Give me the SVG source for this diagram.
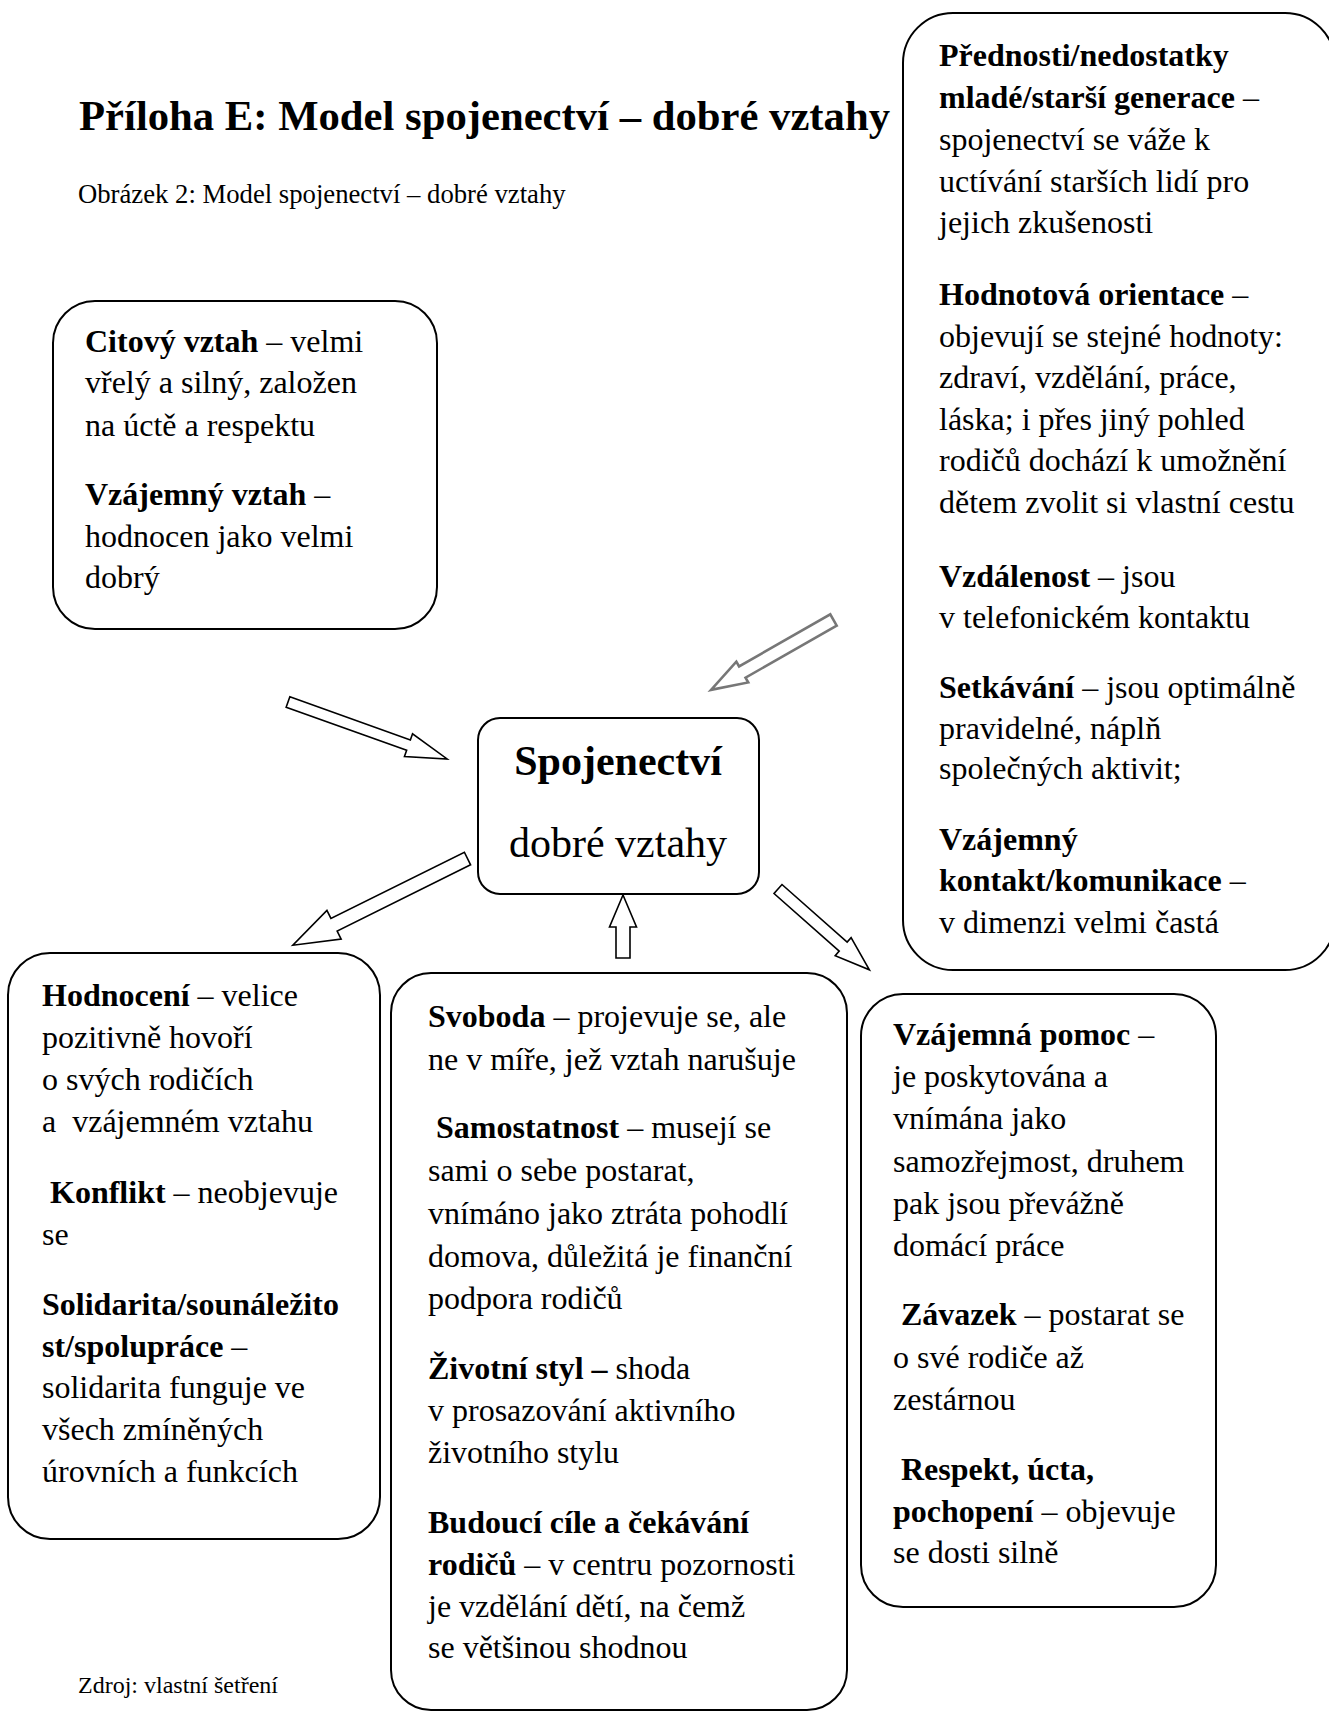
<svg xmlns="http://www.w3.org/2000/svg" width="1329" height="1711" viewBox="0 0 1329 1711">
<style>
text { font-family: "Liberation Serif", "Times New Roman", serif; fill: #000; }
.t { font-size: 32px; }
.b { font-weight: bold; }
.box { fill: #fff; stroke: #000; stroke-width: 2; }
.arr { fill: #fff; stroke: #000; stroke-width: 1.6; stroke-linejoin: miter; }
.arr2 { fill: #fff; stroke: #777; stroke-width: 2.6; stroke-linejoin: miter; }
</style>
<rect width="1329" height="1711" fill="#fff"/>

<g id="title">
<text x="79" y="130" class="b" font-size="42.7">Příloha E: Model spojenectví – dobré vztahy</text>
<text x="78" y="203" font-size="26.7">Obrázek 2: Model spojenectví – dobré vztahy</text>
</g>

<g id="connectors">
<polygon class="arr" transform="translate(288,702) rotate(19.7)" points="0,-5.5 128,-5.5 128,-12 169,0 128,12 128,5.5 0,5.5"/>
<polygon class="arr2" transform="translate(833.5,620) rotate(150.3)" points="0,-6.5 105,-6.5 105,-12 141,0 105,12 105,6.5 0,6.5"/>
<polygon class="arr" transform="translate(467.5,858.5) rotate(153.6)" points="0,-7 149,-7 149,-16 195,0 149,16 149,7 0,7"/>
<polygon class="arr" transform="translate(623,958) rotate(-90)" points="0,-7 31,-7 31,-13.5 63,0 31,13.5 31,7 0,7"/>
<polygon class="arr" transform="translate(778,889) rotate(41.5)" points="0,-6 87,-6 87,-12 122,0 87,12 87,6 0,6"/>
</g>

<g id="node-citovy">
<rect class="box" x="53" y="301" width="384" height="328" rx="42"/>
<text class="t" x="85" y="352"><tspan class="b">Citový vztah</tspan> – velmi</text>
<text class="t" x="85" y="393">vřelý a silný, založen</text>
<text class="t" x="85" y="436">na úctě a respektu</text>
<text class="t" x="85" y="505"><tspan class="b">Vzájemný vztah</tspan> –</text>
<text class="t" x="85" y="547">hodnocen jako velmi</text>
<text class="t" x="85" y="588">dobrý</text>
</g>

<g id="node-prednosti">
<rect class="box" x="903" y="13" width="432" height="957" rx="50"/>
<text class="t" x="939" y="66"><tspan class="b">Přednosti/nedostatky</tspan></text>
<text class="t" x="939" y="108"><tspan class="b">mladé/starší generace</tspan> –</text>
<text class="t" x="939" y="150">spojenectví se váže k</text>
<text class="t" x="939" y="192">uctívání starších lidí pro</text>
<text class="t" x="939" y="233">jejich zkušenosti</text>
<text class="t" x="939" y="305"><tspan class="b">Hodnotová orientace</tspan> –</text>
<text class="t" x="939" y="347">objevují se stejné hodnoty:</text>
<text class="t" x="939" y="388">zdraví, vzdělání, práce,</text>
<text class="t" x="939" y="430">láska; i přes jiný pohled</text>
<text class="t" x="939" y="471">rodičů dochází k umožnění</text>
<text class="t" x="939" y="513">dětem zvolit si vlastní cestu</text>
<text class="t" x="939" y="587"><tspan class="b">Vzdálenost</tspan> – jsou</text>
<text class="t" x="939" y="628">v telefonickém kontaktu</text>
<text class="t" x="939" y="698"><tspan class="b">Setkávání</tspan> – jsou optimálně</text>
<text class="t" x="939" y="739">pravidelné, náplň</text>
<text class="t" x="939" y="779">společných aktivit;</text>
<text class="t" x="939" y="850"><tspan class="b">Vzájemný</tspan></text>
<text class="t" x="939" y="891"><tspan class="b">kontakt/komunikace</tspan> –</text>
<text class="t" x="939" y="933">v dimenzi velmi častá</text>
</g>

<g id="node-center">
<rect class="box" x="478" y="718" width="281" height="176" rx="22"/>
<text x="618" y="775" text-anchor="middle" class="b" font-size="42">Spojenectví</text>
<text x="618" y="857" text-anchor="middle" font-size="42">dobré vztahy</text>
</g>

<g id="node-hodnoceni">
<rect class="box" x="8" y="953" width="372" height="586" rx="42"/>
<text class="t" x="42" y="1006"><tspan class="b">Hodnocení</tspan> – velice</text>
<text class="t" x="42" y="1048">pozitivně hovoří</text>
<text class="t" x="42" y="1090">o svých rodičích</text>
<text class="t" x="42" y="1132" xml:space="preserve">a  vzájemném vztahu</text>
<text class="t" x="42" y="1203" xml:space="preserve"><tspan class="b"> Konflikt</tspan> – neobjevuje</text>
<text class="t" x="42" y="1245">se</text>
<text class="t" x="42" y="1315"><tspan class="b">Solidarita/sounáležito</tspan></text>
<text class="t" x="42" y="1357"><tspan class="b">st/spolupráce</tspan> –</text>
<text class="t" x="42" y="1398">solidarita funguje ve</text>
<text class="t" x="42" y="1440">všech zmíněných</text>
<text class="t" x="42" y="1482">úrovních a funkcích</text>
</g>

<g id="node-svoboda">
<rect class="box" x="391" y="973" width="456" height="737" rx="40"/>
<text class="t" x="428" y="1027"><tspan class="b">Svoboda</tspan> – projevuje se, ale</text>
<text class="t" x="428" y="1070">ne v míře, jež vztah narušuje</text>
<text class="t" x="428" y="1138" xml:space="preserve"><tspan class="b"> Samostatnost</tspan> – musejí se</text>
<text class="t" x="428" y="1181">sami o sebe postarat,</text>
<text class="t" x="428" y="1224">vnímáno jako ztráta pohodlí</text>
<text class="t" x="428" y="1267">domova, důležitá je finanční</text>
<text class="t" x="428" y="1309">podpora rodičů</text>
<text class="t" x="428" y="1379"><tspan class="b">Životní styl –</tspan> shoda</text>
<text class="t" x="428" y="1421">v prosazování aktivního</text>
<text class="t" x="428" y="1463">životního stylu</text>
<text class="t" x="428" y="1533"><tspan class="b">Budoucí cíle a čekávání</tspan></text>
<text class="t" x="428" y="1575"><tspan class="b">rodičů</tspan> – v centru pozornosti</text>
<text class="t" x="428" y="1617">je vzdělání dětí, na čemž</text>
<text class="t" x="428" y="1658">se většinou shodnou</text>
</g>

<g id="node-pomoc">
<rect class="box" x="861" y="994" width="355" height="613" rx="42"/>
<text class="t" x="893" y="1045"><tspan class="b">Vzájemná pomoc</tspan> –</text>
<text class="t" x="893" y="1087">je poskytována a</text>
<text class="t" x="893" y="1129">vnímána jako</text>
<text class="t" x="893" y="1172">samozřejmost, druhem</text>
<text class="t" x="893" y="1214">pak jsou převážně</text>
<text class="t" x="893" y="1256">domácí práce</text>
<text class="t" x="893" y="1325" xml:space="preserve"><tspan class="b"> Závazek</tspan> – postarat se</text>
<text class="t" x="893" y="1368">o své rodiče až</text>
<text class="t" x="893" y="1410">zestárnou</text>
<text class="t" x="893" y="1480" xml:space="preserve"><tspan class="b"> Respekt, úcta,</tspan></text>
<text class="t" x="893" y="1522"><tspan class="b">pochopení</tspan> – objevuje</text>
<text class="t" x="893" y="1563">se dosti silně</text>
</g>

<g id="source">
<text x="78" y="1693" font-size="24">Zdroj: vlastní šetření</text>
</g>
</svg>
